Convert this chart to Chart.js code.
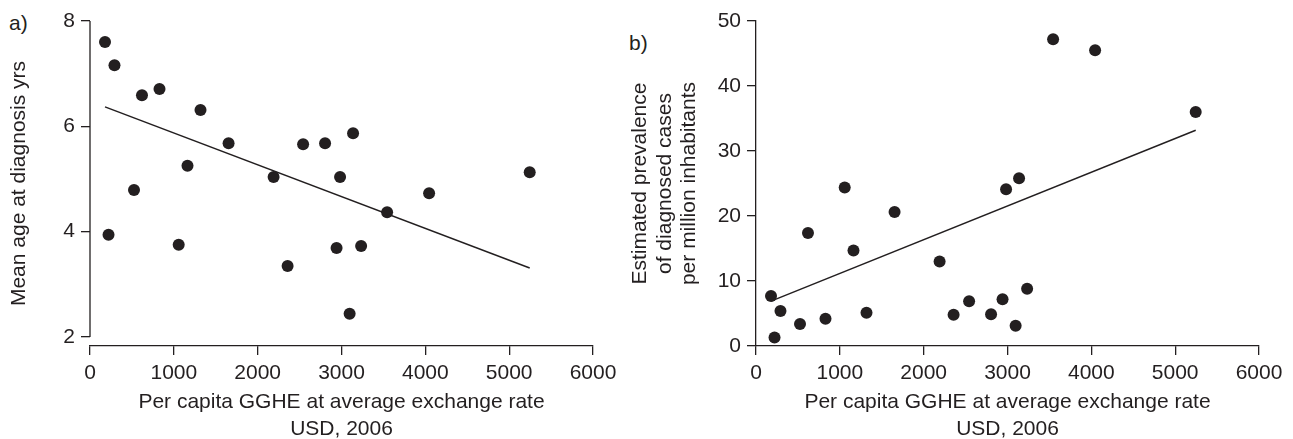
<!DOCTYPE html>
<html>
<head>
<meta charset="utf-8">
<script src="https://cdn.jsdelivr.net/npm/chart.js@4"></script>
<style>
  body { margin: 0; background: #fff; width: 1293px; height: 439px; overflow: hidden; position: relative; }
  canvas { position: absolute; top: 0; }
  #ca { left: 0; }
  #cb { left: 600px; }
  .tag { position: absolute; font: 21px "Liberation Sans", Arial, sans-serif; color: #231f20; line-height: 25px; }
</style>
</head>
<body>
<div class="tag" style="left:9px; top:10px;">a)</div>
<div class="tag" style="left:629px; top:30px;">b)</div>
<canvas id="ca" width="640" height="439"></canvas>
<canvas id="cb" width="693" height="439"></canvas>
<script>
// per capita GGHE (USD, 2006), one value per country
var gghe = [179, 221, 292, 525, 620, 829, 1058, 1163, 1318, 1653, 2190,
  2357, 2542, 2804, 2941, 2983, 3097, 3138, 3234, 3544, 4045, 5245];
// a) mean age at diagnosis, years
var meanAge = [7.60, 3.94, 7.16, 4.79, 6.59, 6.71, 3.75, 5.25, 6.31, 5.68, 5.04,
  3.35, 5.66, 5.68, 3.69, 5.04, 2.44, 5.87, 3.73, 4.37, 4.73, 5.13];
// b) estimated prevalence per million inhabitants
var prevalence = [7.7, 1.3, 5.4, 3.4, 17.4, 4.2, 24.4, 14.7, 5.1, 20.6, 13.0,
  4.8, 6.9, 4.9, 7.2, 24.1, 3.1, 25.8, 8.8, 47.2, 45.5, 36.0];
// fitted lines (end points)
var fitX = [179, 5245];
var fitAge = [6.37, 3.31];
var fitPrev = [6.9, 33.2];

var ink = "#231f20";
Chart.defaults.font.family = '"Liberation Sans", Arial, sans-serif';
Chart.defaults.font.size = 21;
Chart.defaults.color = ink;

function pts(xs, ys) {
  return xs.map(function (x, i) { return { x: x, y: ys[i] }; });
}

function plain(v) { return String(v); }

function datasets(ys, fit) {
  return [
    { type: "scatter", data: pts(gghe, ys), pointRadius: 6, pointHoverRadius: 6,
      backgroundColor: ink, borderWidth: 0 },
    { type: "line", data: pts(fitX, fit), borderColor: ink, borderWidth: 1.5,
      pointRadius: 0, fill: false }
  ];
}

function xScale() {
  return {
    type: "linear", min: 0, max: 6000,
    afterFit: function (s) { s.height = 93; },
    ticks: { stepSize: 1000, padding: 6, color: ink, callback: plain },
    grid: { drawOnChartArea: false, tickLength: 9, color: ink, lineWidth: 1.3 },
    border: { color: ink, width: 1.3 },
    title: { display: true, text: ["Per capita GGHE at average exchange rate", "USD, 2006"],
      font: { size: 21, lineHeight: 1.286 }, padding: { top: 0, bottom: -4 }, color: ink }
  };
}

// panel a: y axis line stops at 2, x axis sits a little below it
var ageAxisLine = {
  id: "ageAxisLine",
  afterDraw: function (chart) {
    var y = chart.scales.y, ctx = chart.ctx, left = chart.chartArea.left;
    ctx.save();
    ctx.strokeStyle = ink;
    ctx.lineWidth = 1.3;
    ctx.beginPath();
    ctx.moveTo(left, y.getPixelForValue(2));
    ctx.lineTo(left, y.getPixelForValue(8));
    ctx.stroke();
    ctx.restore();
  }
};

new Chart("ca", {
  data: { datasets: datasets(meanAge, fitAge) },
  options: {
    responsive: false, animation: false,
    layout: { padding: { left: 0, top: 21, right: 47, bottom: 0 } },
    plugins: { legend: { display: false }, tooltip: { enabled: false } },
    scales: {
      x: xScale(),
      y: {
        type: "linear", min: 1.829, max: 8,
        afterFit: function (s) { s.width = 90; },
        afterBuildTicks: function (s) {
          s.ticks = [2, 4, 6, 8].map(function (v) { return { value: v }; });
        },
        ticks: { padding: 6, color: ink, callback: plain },
        grid: { drawOnChartArea: false, tickLength: 9, color: ink, lineWidth: 1.3 },
        border: { display: false },
        title: { display: true, text: "Mean age at diagnosis yrs", font: { size: 21 },
          padding: { top: 7, bottom: 0 }, color: ink }
      }
    }
  },
  plugins: [ageAxisLine]
});

new Chart("cb", {
  data: { datasets: datasets(prevalence, fitPrev) },
  options: {
    responsive: false, animation: false,
    layout: { padding: { left: 0, top: 21, right: 34, bottom: 0 } },
    plugins: { legend: { display: false }, tooltip: { enabled: false } },
    scales: {
      x: xScale(),
      y: {
        type: "linear", min: 0, max: 50,
        afterFit: function (s) { s.width = 156; },
        ticks: { stepSize: 10, padding: 6, color: ink, callback: plain },
        grid: { drawOnChartArea: false, tickLength: 9, color: ink, lineWidth: 1.3 },
        border: { color: ink, width: 1.3 },
        title: { display: true,
          text: ["Estimated prevalence", "of diagnosed cases", "per million inhabitants"],
          font: { size: 21, lineHeight: 1.17 }, padding: { top: 28, bottom: 0 }, color: ink }
      }
    }
  }
});
</script>
</body>
</html>
